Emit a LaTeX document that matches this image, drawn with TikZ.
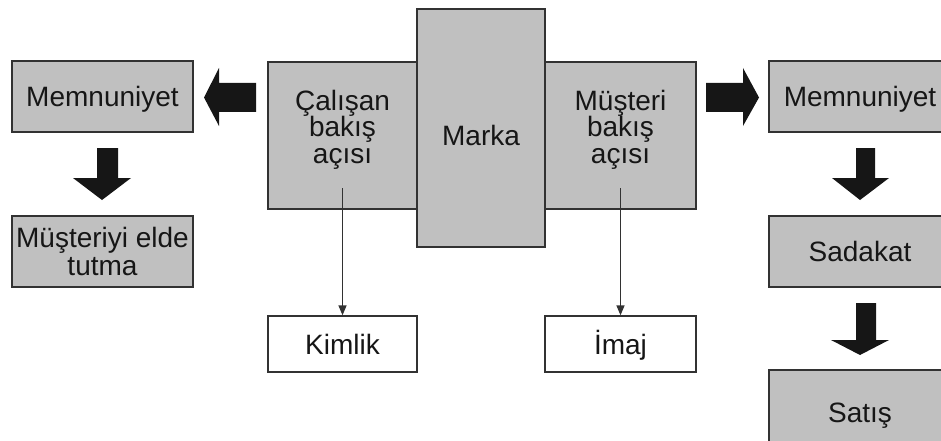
\documentclass[tikz,border=0pt]{standalone}
\usepackage{fontspec}
\setmainfont{Liberation Sans}
\usetikzlibrary{arrows.meta}
\definecolor{boxgray}{RGB}{192,192,192}
\definecolor{edgegray}{RGB}{50,50,50}
\definecolor{ink}{RGB}{22,22,22}
\begin{document}
\begin{tikzpicture}[x=1pt,y=-1pt,
  box/.style={draw=edgegray, line width=1.3pt, fill=boxgray, inner sep=0pt,
              font=\fontsize{28}{28}\selectfont, text=ink, align=center},
  plainbox/.style={box, fill=white},
  caps/.style={text height=20pt, text depth=0pt},
  lbl/.style={inner sep=0pt, font=\fontsize{28}{26.5}\selectfont, text=ink, align=center},
  blockarrow/.style={fill=ink, draw=none},
  link/.style={draw=edgegray, line width=1.3pt, -{Triangle[length=10pt,width=8pt]}}]
\useasboundingbox (0,0) rectangle (941,441);
\clip (0,0) rectangle (941,441);

% left column
\node[box, caps, minimum width=181pt, minimum height=71pt] (memL) at (102.5,96.5) {Memnuniyet};
\node[box, minimum width=181pt, minimum height=71pt] (tutma) at (102.5,251.5) {Müşteriyi elde\\tutma};

% centre
\node[box, minimum width=149pt, minimum height=147pt] (calisan) at (342.5,135.5) {};
\node[box, minimum width=151pt, minimum height=147pt] (musteri) at (620.5,135.5) {};
\node[box, minimum width=128pt, minimum height=238pt] (marka) at (481,128) {};
\node[lbl] (calisanT) at (342.5,129.5) {Çalışan\\bakış\\açısı};
\node[lbl] (musteriT) at (620.5,129.5) {Müşteri\\bakış\\açısı};
\node[lbl, caps] (markaT) at (481,135.5) {Marka};

\node[plainbox, caps, minimum width=149pt, minimum height=56pt] (kimlik) at (342.5,344) {Kimlik};
\node[plainbox, caps, minimum width=151pt, minimum height=56pt] (imaj) at (620.5,344) {İmaj};

% right column
\node[box, caps, minimum width=182pt, minimum height=71pt] (memR) at (860,96.5) {Memnuniyet};
\node[box, caps, minimum width=182pt, minimum height=71pt] (sadakat) at (860,251.5) {Sadakat};
\node[box, caps, minimum width=182pt, minimum height=84pt] (satis) at (860,412) {Satış};

% block arrows
\fill[blockarrow] (256,83) -- (219,83) -- (219,68) -- (204,97.5) -- (219,126) -- (219,112) -- (256,112) -- cycle;
\fill[blockarrow] (706,83) -- (743,83) -- (743,68) -- (759,97.5) -- (743,126) -- (743,112) -- (706,112) -- cycle;
\fill[blockarrow] (97,148) -- (118,148) -- (118,178) -- (131,178) -- (102,200) -- (73,178) -- (97,178) -- cycle;
\fill[blockarrow] (856,148) -- (875,148) -- (875,178) -- (889,178) -- (860,200) -- (832,178) -- (856,178) -- cycle;
\fill[blockarrow] (856,303) -- (876,303) -- (876,340) -- (889,340) -- (860,355) -- (831,340) -- (856,340) -- cycle;

% thin connectors
\coordinate (cs) at (342.5,188);
\coordinate (ms) at (620.5,188);
\draw[link] (cs) -- (cs |- kimlik.north);
\draw[link] (ms) -- (ms |- imaj.north);
\end{tikzpicture}
\end{document}
